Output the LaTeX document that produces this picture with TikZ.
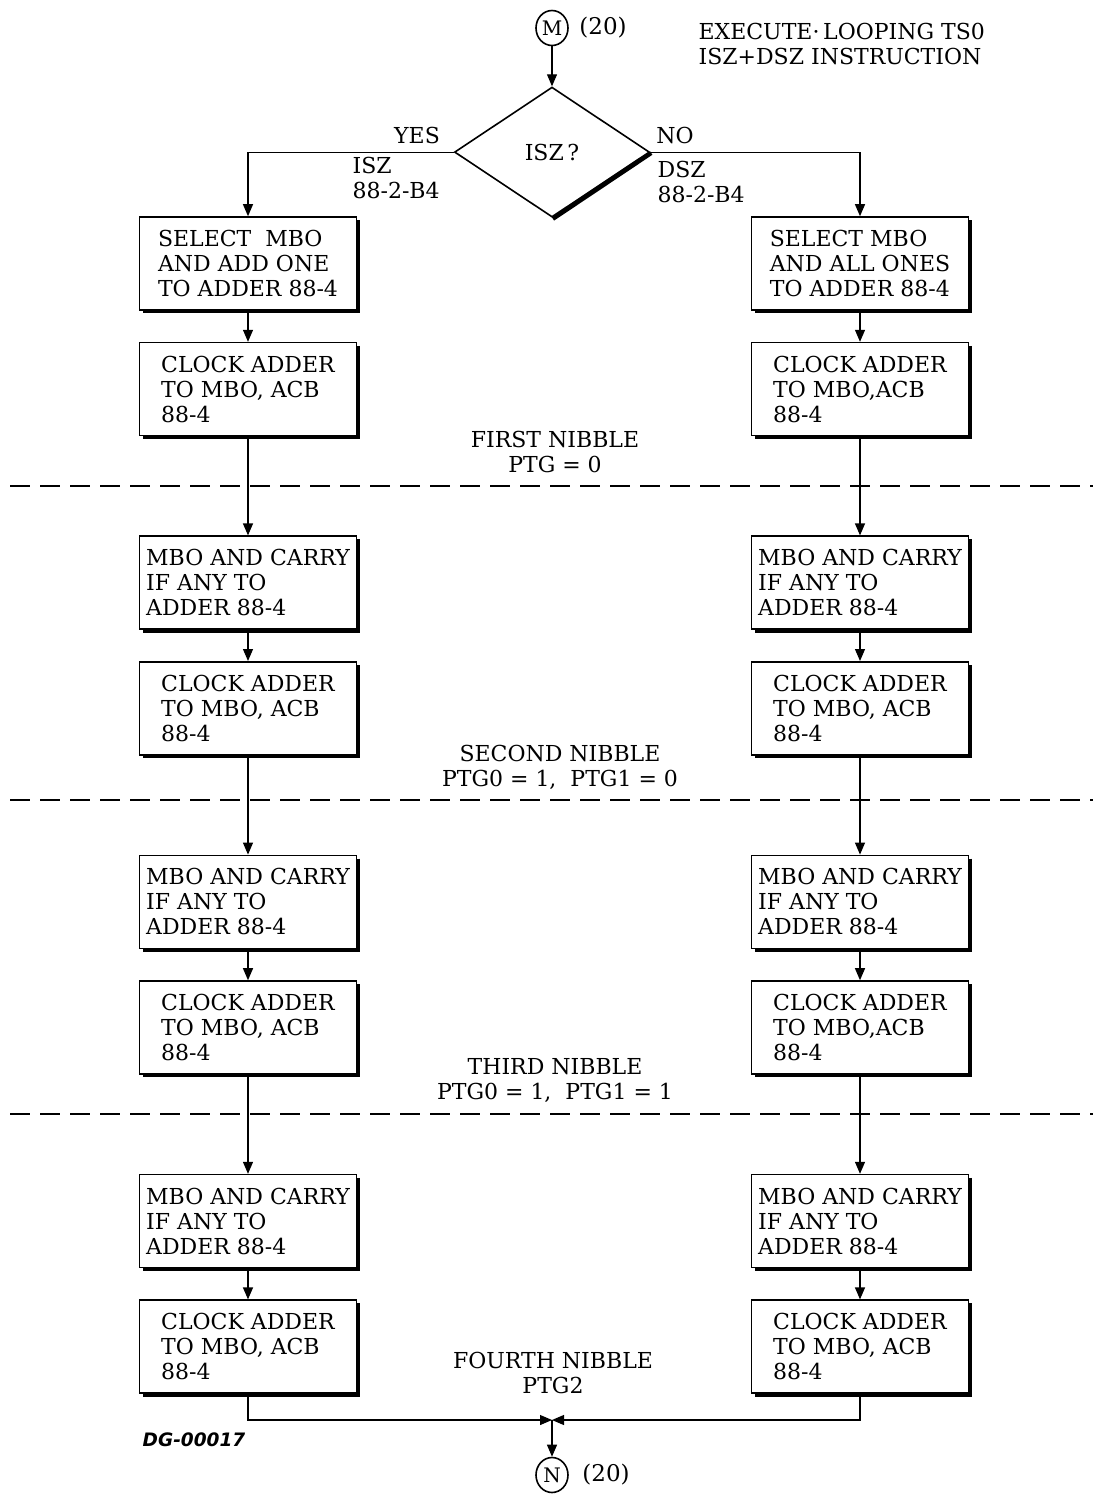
\documentclass[tikz,border=0pt]{standalone}
\usepackage{fontspec}
\setmainfont{DejaVu Serif}
\setsansfont{DejaVu Sans}
\usepackage{tikz}
\usetikzlibrary{shapes.geometric, arrows.meta, calc}
\usetikzlibrary{positioning}

\newcommand\chartfont{\fontsize{22}{25}\selectfont}

\begin{document}
\begin{tikzpicture}[x=1pt, y=-1pt, line width=1.2pt,
    opbox/.style={rectangle, draw=black, fill=white, line width=1.6pt, minimum width=217pt, minimum height=93pt, inner sep=2pt, align=left},
    boxshadow/.style={line width=3pt},
    decision/.style={diamond, draw=black, line width=1.6pt, aspect=1.5, minimum width=195pt, minimum height=130pt, inner sep=0pt},
    connector/.style={ellipse, draw=black, line width=1.6pt, inner sep=0pt, minimum width=32pt, minimum height=35pt, font=\fontsize{20}{22}\selectfont},
    separator/.style={dash pattern=on 20pt off 10pt, line width=1.2pt},
    every node/.style={font=\chartfont, node distance=31pt},
    >={Triangle[length=12pt, width=10pt]}
    ]
    \useasboundingbox (0,0) rectangle (1093,1497);

    \def\txtselL{SELECT~ MBO\\AND ADD ONE\\TO ADDER 88-4}
    \def\txtselR{SELECT MBO\\AND ALL ONES\\TO ADDER 88-4}
    \def\txtclk{CLOCK ADDER\\TO MBO, ACB\\88-4}
    \def\txtclkb{CLOCK ADDER\\TO MBO,ACB\\88-4}
    \def\txtcry{MBO AND CARRY\\IF ANY TO\\ADDER 88-4}

    % entry point and decision
    \node[connector] (M) at (552,28) {M};
    \node[right=10pt of M, inner sep=0pt, font=\fontsize{23}{25}\selectfont] (Mnum) {(20)};
    \node[anchor=north west, align=left, inner sep=0pt] (title) at (698,23) {EXECUTE·\,LOOPING TS0\\ISZ+DSZ INSTRUCTION};
    \node[decision, below=40pt of M] (isz) {ISZ\,?};
    \draw[line width=4pt] ([xshift=1pt,yshift=-1pt]isz.east) -- ([xshift=1pt,yshift=-1pt]isz.south);
    \draw[->] (M) -- (isz);

    \node (yes) at (417,135) {YES};
    \node[anchor=west, align=left, inner sep=0pt] (iszref) at (352,178) {ISZ\\88-2-B4};
    \node (no) at (675,135) {NO};
    \node[anchor=west, align=left, inner sep=0pt] (dszref) at (657,182) {DSZ\\88-2-B4};

    % the two columns of steps
    \foreach \r/\lt/\rt in {1/txtselL/txtselR, 2/txtclk/txtclkb, 3/txtcry/txtcry, 4/txtclk/txtclk,
                            5/txtcry/txtcry, 6/txtclk/txtclkb, 7/txtcry/txtcry, 8/txtclk/txtclk} {
        \foreach \col/\cx/\tx in {L/248/\lt, R/860/\rt} {
            \ifnum \r = 1
            \node[opbox] (\col\r) at (\cx,263.5) {\csname\tx\endcsname};
            \else
            \pgfmathtruncatemacro\prevr{\r-1}
            \ifodd \r
            \node[opbox, below=99pt of \col\prevr] (\col\r) {\csname\tx\endcsname};
            \else
            \node[opbox, below=31pt of \col\prevr] (\col\r) {\csname\tx\endcsname};
            \fi
            % arrow from the step above
            \draw[->] (\col\prevr) -- (\col\r);
            \fi
            \draw[boxshadow] ([xshift=1pt,yshift=-4pt]\col\r.north east) -- ([xshift=1pt,yshift=-1pt]\col\r.south east) -- ([xshift=4pt,yshift=-1pt]\col\r.south west);
        }
    }

    \draw[->] (isz.west) -| (L1);
    \draw[->] (isz.east) -| (R1);

    % nibble boundaries
    \foreach \dy in {486,800,1114}
        \draw[separator] (10,\dy) -- (1093,\dy);

    \node[align=center] (nib1) at (555,452) {FIRST NIBBLE\\PTG = 0};
    \node[align=center] (nib2) at (560,767) {SECOND NIBBLE\\PTG0 = 1,~ PTG1 = 0};
    \node[align=center] (nib3) at (555,1080) {THIRD NIBBLE\\PTG0 = 1,~ PTG1 = 1};
    \node[align=center] (nib4) at (553,1373) {FOURTH NIBBLE\\PTG2};

    % exit
    \coordinate (merge) at (552,1420);
    \draw[->] (L8) |- (merge);
    \draw[->] (R8) |- (merge);
    \node[connector] (N) at (552,1475) {N};
    \node[right=13pt of N, inner sep=0pt, font=\fontsize{23}{25}\selectfont] (Nnum) {(20)};
    \draw[->] (merge) -- (N);

    \node[font=\sffamily\bfseries\itshape\fontsize{18.5}{20}\selectfont] (dgnum) at (194,1440) {DG-00017};
\end{tikzpicture}
\end{document}
